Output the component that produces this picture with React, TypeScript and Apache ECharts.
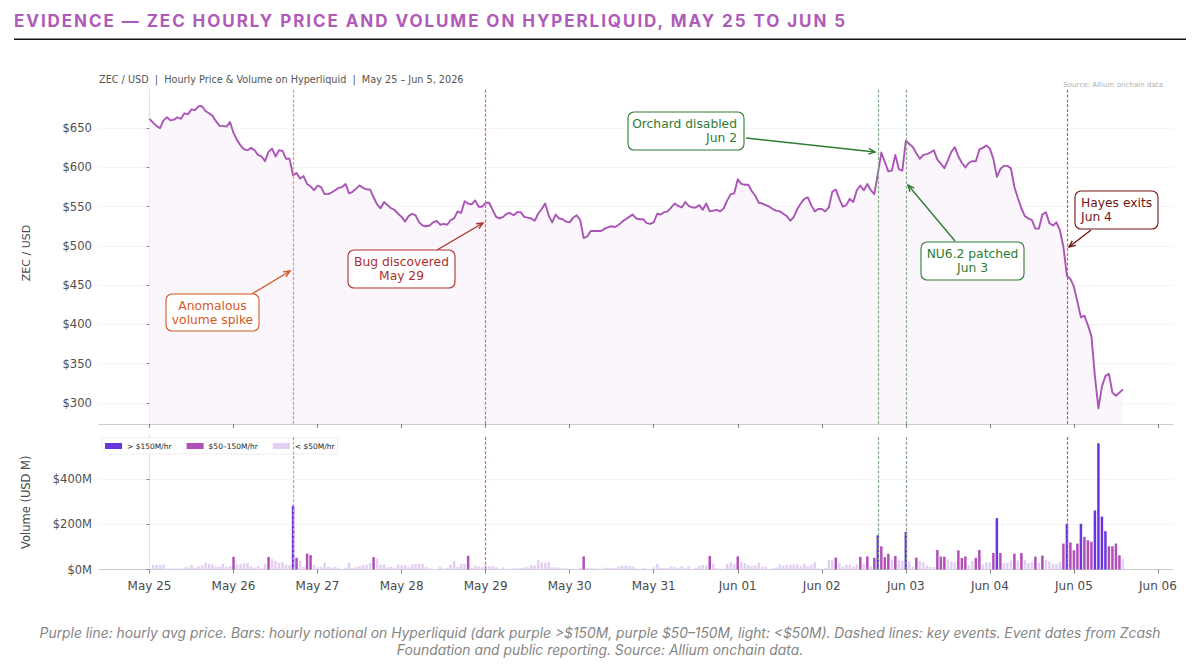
import React, { useEffect, useRef } from "react";
import * as echarts from "echarts";

const titleText = "EVIDENCE — ZEC HOURLY PRICE AND VOLUME ON HYPERLIQUID, MAY 25 TO JUN 5";
const subtitleText = "ZEC / USD  |  Hourly Price & Volume on Hyperliquid  |  May 25 – Jun 5, 2026";
const sourceText = "Source: Allium onchain data";
const footerText =
  "Purple line: hourly avg price. Bars: hourly notional on Hyperliquid (dark purple >$150M, purple $50–150M, light: <$50M). Dashed lines: key events. Event dates from Zcash\nFoundation and public reporting. Source: Allium onchain data.";

const dayLabels = ["May 25", "May 26", "May 27", "May 28", "May 29", "May 30", "May 31", "Jun 01", "Jun 02", "Jun 03", "Jun 04", "Jun 05", "Jun 06"];
const priceTicks = [300, 350, 400, 450, 500, 550, 600, 650];
const volumeTicks = [0, 200, 400];

// Hourly average price, one value per hour from May 25 00:00
const priceValues = [
  662, 657, 653, 650, 660, 664, 660, 661, 664, 662,
  669, 668, 674, 673, 678, 678, 672, 669, 666, 659,
  653, 653, 652, 658, 644, 635, 628, 623, 622, 625,
  622, 616, 614, 608, 620, 624, 614, 622, 621, 611,
  611, 590, 593, 586, 589, 579, 576, 571, 577, 575,
  566, 566, 568, 571, 574, 575, 579, 567, 569, 573,
  577, 574, 572, 572, 562, 553, 548, 556, 552, 548,
  546, 541, 537, 531, 538, 541, 539, 530, 526, 525,
  526, 530, 532, 527, 528, 527, 533, 535, 544, 542,
  557, 554, 553, 558, 550, 550, 555, 555, 546, 537,
  535, 537, 541, 542, 539, 543, 543, 537, 536, 535,
  532, 541, 547, 554, 539, 530, 540, 535, 534, 531,
  530, 536, 539, 533, 510, 512, 519, 519, 519, 519,
  522, 524, 525, 524, 527, 531, 534, 537, 540, 535,
  534, 534, 529, 528, 530, 541, 540, 543, 544, 549,
  554, 551, 549, 556, 551, 549, 549, 552, 546, 554,
  544, 545, 546, 544, 548, 558, 566, 567, 585, 579,
  578, 578, 570, 564, 555, 554, 552, 550, 547, 545,
  544, 541, 538, 532, 537, 547, 554, 560, 562, 552,
  544, 547, 547, 544, 549, 569, 572, 560, 550, 552,
  560, 556, 571, 577, 571, 579, 571, 566, 592, 619,
  607, 595, 596, 616, 598, 596, 634, 630, 626, 618,
  611, 616, 617, 619, 622, 610, 605, 599, 609, 620,
  626, 614, 606, 600, 606, 608, 608, 623, 625, 628,
  624, 611, 588, 598, 602, 602, 599, 575, 561, 548,
  538, 535, 533, 522, 522, 540, 543, 529, 526, 530,
  520, 499, 462, 458, 448, 429, 409, 411, 399, 385,
  334, 293, 321, 334, 337, 313, 309, 313, 317,
];

// Hourly notional in USD millions
const volumeValues = [
  3, 20, 20, 20, 22, 4, 4, 5, 5, 4,
  10, 10, 20, 8, 14, 18, 30, 25, 22, 13,
  12, 25, 12, 15, 56, 22, 24, 28, 28, 14,
  8, 15, 5, 25, 56, 46, 38, 30, 32, 22,
  20, 284, 52, 38, 12, 71, 64, 20, 10, 12,
  30, 12, 8, 12, 8, 3, 8, 30, 6, 10,
  15, 20, 20, 28, 55, 48, 22, 22, 10, 12,
  8, 22, 18, 20, 12, 22, 24, 26, 26, 12,
  5, 2, 2, 12, 5, 8, 22, 38, 12, 25,
  24, 61, 8, 18, 14, 10, 18, 14, 15, 10,
  3, 9, 3, 3, 6, 5, 6, 10, 10, 20,
  18, 42, 32, 30, 33, 10, 10, 8, 6, 5,
  3, 1, 3, 8, 58, 8, 6, 5, 3, 3,
  8, 8, 6, 6, 14, 18, 18, 16, 14, 5,
  2, 6, 3, 2, 10, 24, 8, 6, 6, 14,
  12, 8, 14, 6, 14, 2, 8, 16, 20, 18,
  60, 26, 5, 4, 4, 25, 32, 25, 58, 36,
  28, 20, 16, 18, 30, 12, 12, 3, 6, 10,
  22, 18, 20, 20, 22, 24, 14, 25, 14, 20,
  32, 6, 3, 8, 42, 42, 53, 28, 12, 20,
  20, 14, 22, 56, 25, 58, 14, 52, 152, 103,
  55, 70, 42, 60, 40, 38, 167, 35, 12, 53,
  38, 32, 18, 12, 10, 87, 57, 57, 45, 35,
  32, 85, 51, 58, 20, 38, 52, 87, 22, 32,
  32, 73, 228, 73, 28, 30, 40, 70, 40, 73,
  42, 28, 32, 57, 30, 62, 42, 35, 25, 25,
  35, 115, 203, 120, 85, 115, 203, 145, 130, 123,
  262, 560, 235, 170, 103, 103, 115, 63, 45,
];

const eventHours = [41, 96, 208, 216, 262];
const eventColors = ["#ee9660", "#e2656b", "#86ab88", "#86ab88", "#c25a68"];

const tierNames = ["> $150M/hr", "$50–150M/hr", "< $50M/hr"];
const tierColors = ["#6a35e0", "#b04fb6", "#e2cff1"];

const DEJAVU = "'DejaVu Sans', sans-serif";
const INTER = "Inter, sans-serif";
const PURPLE = "#a955b6";

const annotations = [
  { text: "Anomalous\nvolume spike", box: [166, 294, 93, 37], align: "center", color: "#d4591f", tail: [252, 294], tip: [290, 271] },
  { text: "Bug discovered\nMay 29", box: [348, 250, 107, 38], align: "center", color: "#ad2f2f", tail: [437, 250], tip: [483, 223] },
  { text: "Orchard disabled\nJun 2", box: [628, 112, 116, 38], align: "right", color: "#2f7d33", tail: [746, 138], tip: [875, 152] },
  { text: "NU6.2 patched\nJun 3", box: [921, 242, 103, 38], align: "center", color: "#2f7d33", tail: [955, 241], tip: [908, 185] },
  { text: "Hayes exits\nJun 4", box: [1075, 191, 83, 38], align: "left", color: "#731414", tail: [1091, 230], tip: [1069, 247] },
];

function annotationElements() {
  const out: any[] = [];
  for (const a of annotations) {
    const [x, y, w, h] = a.box;
    const ang = Math.atan2(a.tip[1] - a.tail[1], a.tip[0] - a.tail[0]);
    const head = (d: number) => [a.tip[0] - 7 * Math.cos(ang + d), a.tip[1] - 7 * Math.sin(ang + d)];
    out.push({ type: "line", z: 20, shape: { x1: a.tail[0], y1: a.tail[1], x2: a.tip[0], y2: a.tip[1] }, style: { stroke: a.color, lineWidth: 1.4 }, silent: true });
    out.push({ type: "polyline", z: 20, shape: { points: [head(0.42), a.tip, head(-0.42)] }, style: { stroke: a.color, fill: null, lineWidth: 1.4 }, silent: true });
    out.push({ type: "rect", z: 21, shape: { x, y, width: w, height: h, r: 6 }, style: { fill: "rgba(255,255,255,0.92)", stroke: a.color, lineWidth: 1.1 }, silent: true });
    const tx = a.align === "center" ? x + w / 2 : a.align === "right" ? x + w - 7 : x + 6;
    out.push({
      type: "text", z: 22, x: tx, y: y + h / 2, silent: true,
      style: { text: a.text, fill: a.color, font: `12.3px ${DEJAVU}`, textAlign: a.align, textVerticalAlign: "middle", lineHeight: 14 },
    });
  }
  return out;
}

const hourTicks = dayLabels.map((_, i) => i * 24);

function xAxis(gridIndex: number, withLabels: boolean) {
  return {
    type: "value", gridIndex, min: -14.42, max: 292.3,
    axisLine: { show: true, onZero: false, lineStyle: { color: "#cccccc", width: 1 } },
    axisTick: { show: true, length: 4, customValues: hourTicks, lineStyle: { color: "#666", width: 0.8 } },
    axisLabel: {
      show: withLabels, customValues: hourTicks, margin: 10, color: "#4a4a4a", fontFamily: DEJAVU, fontSize: 12,
      formatter: (v: number) => dayLabels[Math.round(v / 24)],
    },
    splitLine: { show: false },
  };
}

export default function App() {
  const ref = useRef<HTMLDivElement>(null);
  useEffect(() => {
    const chart = echarts.init(ref.current!, undefined, { renderer: "svg", width: 1200, height: 664 });
    const hours = priceValues.map((_, i) => i);
    const tierSeries = tierNames.map((name, t) => ({
      name, type: "bar", xAxisIndex: 1, yAxisIndex: 1, barWidth: 2.5, barGap: "-100%",
      itemStyle: { color: tierColors[t] },
      data: volumeValues
        .map((v, i) => [hours[i], v])
        .filter(([, v]) => (t === 0 ? v > 150 : t === 1 ? v >= 50 && v <= 150 : v < 50)),
    }));
    const eventLines = () => ({
      silent: true, symbol: "none", label: { show: false }, animation: false,
      data: eventHours.map((h, i) => ({ xAxis: h, lineStyle: { color: eventColors[i], type: [3, 1.8], width: 1.2, opacity: 1 } })),
    });
    chart.setOption({
      animation: false,
      backgroundColor: "#ffffff",
      textStyle: { fontFamily: DEJAVU },
      grid: [
        { left: 99, right: 27, top: 89, height: 335 },
        { left: 99, right: 27, top: 435, height: 134.5 },
      ],
      xAxis: [xAxis(0, false), xAxis(1, true)],
      yAxis: [
        {
          type: "value", gridIndex: 0, min: 273, max: 700,
          name: "ZEC / USD", nameLocation: "middle", nameGap: 67,
          nameTextStyle: { color: "#4a4a4a", fontSize: 11, fontFamily: DEJAVU, padding: [0, 0, 0, 7] },
          axisLine: { show: true, lineStyle: { color: "#e2e2e2", width: 1.2 } },
          axisTick: { show: true, length: 3, customValues: priceTicks, lineStyle: { color: "#666", width: 0.8 } },
          axisLabel: { customValues: priceTicks, margin: 7, color: "#4f4f4f", fontSize: 11.6, fontFamily: DEJAVU, formatter: (v: number) => `$${v}` },
          splitLine: { show: true, lineStyle: { color: "#f5f5f5", width: 1 } },
        },
        {
          type: "value", gridIndex: 1, min: 0, max: 597,
          name: "Volume (USD M)", nameLocation: "middle", nameGap: 67,
          nameTextStyle: { color: "#4a4a4a", fontSize: 11.5, fontFamily: DEJAVU },
          axisLine: { show: true, lineStyle: { color: "#e2e2e2", width: 1.2 } },
          axisTick: { show: true, length: 3, customValues: volumeTicks, lineStyle: { color: "#666", width: 0.8 } },
          axisLabel: { customValues: volumeTicks, margin: 7, color: "#4f4f4f", fontSize: 11.5, fontFamily: DEJAVU, formatter: (v: number) => `$${v}M` },
          splitLine: { show: true, lineStyle: { color: "#f5f5f5", width: 1 } },
        },
      ],
      legend: {
        data: tierNames.map((name) => ({ name, icon: "rect" })), left: 102, top: 438, orient: "horizontal", selectedMode: false,
        itemWidth: 17, itemHeight: 6, itemGap: 15, padding: [4, 3], backgroundColor: "#fff",
        borderColor: "#eeeeee", borderWidth: 1, borderRadius: 2,
        textStyle: { fontSize: 7.5, color: "#222", fontFamily: DEJAVU, height: 8, lineHeight: 8 },
      },
      series: [
        {
          name: "Price", type: "line", xAxisIndex: 0, yAxisIndex: 0, showSymbol: false, symbol: "none",
          data: priceValues.map((p, i) => [hours[i], p]),
          lineStyle: { color: PURPLE, width: 1.9, join: "round" }, itemStyle: { color: PURPLE },
          areaStyle: { color: "#faf6fc", origin: "start", opacity: 1 },
          markLine: eventLines(),
        },
        ...tierSeries.map((s, t) => (t === 2 ? { ...s, markLine: eventLines() } : s)),
      ],
      graphic: [
        { type: "text", x: 14, y: 20.7, silent: true, style: { text: titleText, fill: "#b05ab9", font: `700 17px ${INTER}`, textAlign: "left", textVerticalAlign: "middle" } },
        { type: "rect", silent: true, shape: { x: 14, y: 38.5, width: 1172, height: 1.5 }, style: { fill: "#111" } },
        { type: "text", x: 99, y: 79, silent: true, style: { text: subtitleText, fill: "#555", font: `9.7px ${DEJAVU}`, textAlign: "left", textVerticalAlign: "middle" } },
        { type: "text", x: 1163, y: 84, silent: true, style: { text: sourceText, fill: "#b0b0b0", font: `7.1px ${DEJAVU}`, textAlign: "right", textVerticalAlign: "middle" } },
        { type: "text", x: 600, y: 641.5, silent: true, style: { text: footerText, fill: "#858585", font: `italic 13.85px ${INTER}`, textAlign: "center", textVerticalAlign: "middle", lineHeight: 17 } },
        ...annotationElements(),
      ],
    });
    ref.current!.querySelectorAll("text").forEach((t) => {
      if ((t.textContent || "").startsWith("EVIDENCE")) t.setAttribute("letter-spacing", "1.94px");
    });
    return () => chart.dispose();
  }, []);
  return <div ref={ref} style={{ position: "fixed", left: 0, top: 0, width: 1200, height: 664, background: "#fff" }} />;
}
